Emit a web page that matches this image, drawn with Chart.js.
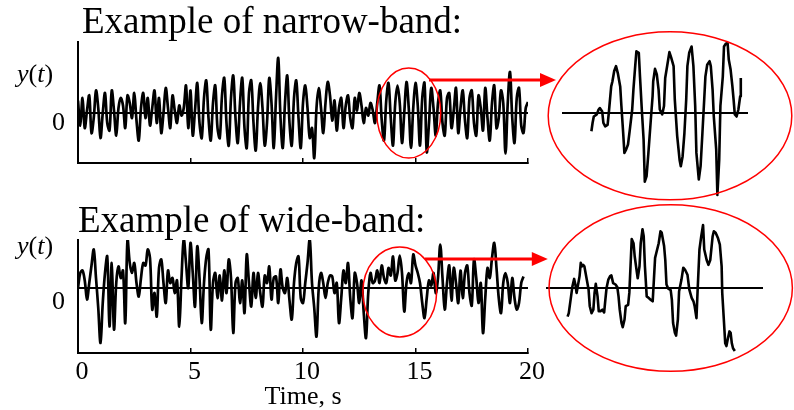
<!DOCTYPE html>
<html>
<head>
<meta charset="utf-8">
<title>Narrow-band and wide-band records</title>
<script src="https://cdn.jsdelivr.net/npm/chart.js@4.4.1/dist/chart.umd.min.js"></script>
<style>
    html, body { margin: 0; padding: 0; background: #fff; }
    #stage {
        position: relative; width: 794px; height: 410px; overflow: hidden;
        font-family: "Liberation Serif", "Times New Roman", serif; color: #000;
    }
    #stage canvas { position: absolute; left: 0; top: 0; }
    .label { position: absolute; white-space: nowrap; line-height: 1; }
    .heading { font-size: 37px; }
    .ylab { font-size: 26px; }
</style>
</head>
<body>
<div id="stage">
    <canvas id="narrowMain" width="794" height="410"></canvas>
    <canvas id="wideMain" width="794" height="410"></canvas>
    <canvas id="narrowZoom" width="794" height="410"></canvas>
    <canvas id="wideZoom" width="794" height="410"></canvas>
    <div class="label heading" style="left:82px;top:2px">Example of narrow-band:</div>
    <div class="label heading" style="left:78px;top:201px">Example of wide-band:</div>
    <div class="label ylab" style="left:17px;top:61px"><i>y</i>(<i>t</i>)</div>
    <div class="label ylab" style="left:17px;top:233px"><i>y</i>(<i>t</i>)</div>
</div>
<script>
// full records, one sample every 0.1 s starting at t = 0
const sampleStep = 0.1;

const narrowBand = [
    0.25, -0.25, 0.3, -0.3, 0.05, 0.35, -0.4, -0.1, 0.45, 0.1,
    -0.5, 0.0, 0.4, -0.2, -0.35, 0.45, 0.05, -0.45, 0.1, 0.3,
    0.15, -0.3, 0.35, 0.2, -0.1, 0.4, -0.15, -0.55, 0.1, 0.4,
    -0.1, 0.3, -0.25, 0.1, 0.45, -0.2, 0.3, -0.4, 0.0, 0.5,
    0.1, -0.3, 0.35, 0.05, -0.2, 0.15, -0.05, 0.1, 0.55, -0.3,
    0.45, -0.45, 0.05, 0.6, -0.2, -0.5, 0.3, 0.65, -0.1, -0.55,
    0.2, 0.55, -0.3, -0.5, 0.35, 0.7, -0.2, -0.65, 0.3, 0.75,
    -0.1, -0.6, 0.2, 0.7, -0.3, -0.7, 0.4, 0.65, -0.2, -0.75,
    0.1, 0.6, 0.1, -0.65, -0.2, 0.7, 0.2, -0.7, 0.3, 1.1,
    -0.1, -0.7, 0.2, 0.75, -0.2, -0.65, 0.3, 0.65, -0.1, -0.7,
    0.2, 0.55, 0.1, -0.5, -0.3, -0.9, 0.1, 0.5, 0.1, -0.4,
    0.2, 0.62, 0.35, -0.15, 0.25, -0.35, 0.1, 0.3, -0.3, 0.15,
    0.35, -0.1, -0.3, 0.3, 0.05, 0.4, 0.15, -0.2, 0.1, -0.05,
    0.2, 0.05, -0.2, 0.2, 0.55, -0.15, -0.55, 0.25, 0.6, -0.1,
    -0.65, 0.2, 0.55, 0.2, -0.6, 0.0, 0.62, 0.1, -0.7, 0.1,
    0.6, 0.15, -0.65, 0.3, 0.6, -0.78, -0.2, 0.5, 0.1, -0.45,
    0.2, 0.45, -0.2, -0.45, 0.3, 0.4, -0.3, 0.05, 0.5, -0.4,
    0.1, 0.45, -0.15, -0.5, 0.3, 0.45, -0.2, -0.45, 0.35, 0.1,
    -0.35, 0.5, -0.1, -0.55, 0.2, 0.55, -0.3, -0.1, 0.45, 0.2,
    -0.81, 0.2, 0.82, -0.1, -0.6, 0.3, 0.5, -0.25, -0.4, 0.1,
    0.22
];

const wideBand = [
    0.0, 0.3, 0.35, 0.15, -0.23, 0.1, 0.45, 0.77, 0.2, -0.4,
    -1.1, -0.3, 0.3, 0.63, -0.77, 0.5, -0.83, 0.1, 0.43, 0.2,
    0.35, -0.7, 0.97, 0.5, 0.3, 0.5, 0.1, -0.17, 0.2, 0.5,
    0.45, 0.77, 0.6, -0.43, -0.1, -0.57, 0.4, 0.57, 0.1, -0.3,
    0.35, 0.1, 0.2, -0.1, 0.15, -0.77, 0.2, 0.97, 0.5, 0.0,
    0.9, 0.3, -0.37, 0.83, 0.2, -0.7, 0.1, 0.6, 0.77, -0.83,
    0.1, 0.3, -0.2, 0.25, -0.25, 0.35, -0.1, 0.57, 0.2, -0.9,
    0.1, 0.2, -0.3, 0.15, -0.5, 0.67, 0.1, -0.37, 0.3, -0.2,
    0.3, -0.1, -0.37, 0.25, 0.1, 0.43, -0.23, 0.2, 0.23, -0.3,
    0.37, 0.0, -0.1, 0.2, -0.25, -0.63, 0.1, 0.5, 0.63, -0.2,
    -0.3, 0.1, 0.5, 0.97, 0.1, -0.4, -0.97, 0.0, 0.3, 0.1,
    -0.2, 0.1, 0.25, 0.23, -0.1, 0.1, -0.7, -0.2, 0.35, 0.1,
    0.5, -0.2, -0.6, 0.3, 0.1, -0.3, 0.15, -0.5, -1.0, -0.1,
    0.3, 0.1, 0.15, 0.35, 0.1, 0.45, 0.2, 0.1, 0.4, 0.25,
    0.63, 0.15, 0.3, 0.65, 0.3, -0.47, 0.1, 0.3, 0.1, 0.67,
    0.45, 0.3, 0.1, -0.3, -0.6, -0.2, 0.15, 0.05, 0.3, -0.1,
    0.2, 0.87, 0.2, -0.43, 0.1, 0.45, -0.25, 0.4, 0.1, -0.3,
    0.35, -0.2, 0.3, 0.45, -0.1, -0.35, 0.57, 0.2, -0.3, 0.1,
    -0.9, -0.2, 0.4, 0.2, 0.6, 0.9, 0.4, -0.2, -0.5, 0.1,
    0.3, 0.1, -0.3, 0.2, -0.2, -0.43, -0.3, 0.1, 0.23
];

// close-up views inside the big ellipses (time in s, value)
const narrowZoomTime = [
    13.49, 13.51, 13.53, 13.58, 13.61, 13.63, 13.67, 13.69, 13.72, 13.76,
    13.78, 13.80, 13.82, 13.84, 13.87, 13.90, 13.93, 13.97, 13.99, 14.02,
    14.04, 14.07, 14.10, 14.13, 14.17, 14.19, 14.22, 14.24, 14.28, 14.30,
    14.33, 14.36, 14.38, 14.41, 14.44, 14.48, 14.51, 14.52, 14.55, 14.58,
    14.61, 14.63, 14.67, 14.70, 14.72, 14.76, 14.79, 14.82, 14.86, 14.88,
    14.92, 14.96, 14.98, 15.01, 15.04, 15.07, 15.09, 15.12, 15.16, 15.19,
    15.22, 15.24, 15.28, 15.31, 15.34, 15.37, 15.39, 15.42, 15.46, 15.48,
    15.51, 15.53, 15.57, 15.59, 15.62, 15.64, 15.68, 15.70, 15.73, 15.76,
    15.78, 15.81, 15.84, 15.86, 15.88, 15.91, 15.94, 15.97, 15.98
];
const narrowZoomValue = [
    -0.26, -0.14, -0.05, -0.02, 0.05, 0.07, 0.02, -0.14, -0.19, -0.17,
    0.0, 0.19, 0.38, 0.45, 0.6, 0.67, 0.57, 0.38, 0.1, -0.29,
    -0.57, -0.52, -0.45, -0.24, 0.05, 0.33, 0.67, 0.88, 0.86, 0.52,
    0.05, -0.38, -0.98, -0.9, -0.57, -0.1, 0.24, 0.45, 0.63, 0.55,
    0.33, 0.05, -0.02, 0.1, 0.5, 0.71, 0.87, 0.79, 0.67, 0.19,
    -0.33, -0.67, -0.76, -0.62, -0.29, 0.19, 0.67, 0.86, 0.95, 0.67,
    0.1, -0.57, -0.95, -0.76, -0.29, 0.19, 0.52, 0.69, 0.74, 0.67,
    0.33, -0.05, -0.52, -1.17, -0.67, 0.1, 0.52, 0.95, 0.99, 1.0,
    0.76, 0.62, 0.38, 0.19, -0.02, -0.05, 0.05, 0.24, 0.5
];

const wideZoomTime = [
    13.16, 13.18, 13.21, 13.24, 13.27, 13.29, 13.31, 13.33, 13.36, 13.38,
    13.40, 13.42, 13.44, 13.48, 13.51, 13.53, 13.56, 13.59, 13.61, 13.63,
    13.66, 13.68, 13.71, 13.74, 13.77, 13.79, 13.81, 13.84, 13.87, 13.89,
    13.92, 13.96, 13.99, 14.01, 14.03, 14.06, 14.08, 14.11, 14.13, 14.17,
    14.19, 14.21, 14.23, 14.26, 14.28, 14.31, 14.33, 14.36, 14.38, 14.41,
    14.43, 14.45, 14.48, 14.51, 14.55, 14.58, 14.60, 14.62, 14.64, 14.68,
    14.71, 14.73, 14.77, 14.79, 14.81, 14.84, 14.88, 14.90, 14.92, 14.95,
    14.97, 15.00, 15.02, 15.06, 15.09, 15.12, 15.16, 15.19, 15.23, 15.26,
    15.28, 15.31, 15.33, 15.36, 15.39, 15.42, 15.44, 15.48, 15.51, 15.54,
    15.58, 15.60, 15.63, 15.67, 15.70, 15.73, 15.74, 15.77, 15.79, 15.81,
    15.83, 15.86, 15.88, 15.90, 15.92, 15.95
];
const wideZoomValue = [
    -0.41, -0.36, -0.17, 0.02, 0.13, 0.05, -0.07, 0.02, 0.17, 0.36,
    0.31, 0.33, 0.31, 0.12, -0.02, -0.26, -0.36, -0.31, -0.07, 0.06,
    -0.12, -0.33, -0.33, -0.31, -0.35, -0.17, 0.0, 0.12, 0.17, 0.18,
    0.07, 0.05, 0.01, -0.12, -0.31, -0.5, -0.56, -0.45, -0.26, -0.24,
    -0.07, 0.31, 0.7, 0.64, 0.45, 0.26, 0.14, 0.31, 0.64, 0.84,
    0.74, 0.31, -0.12, -0.14, -0.17, -0.19, 0.12, 0.43, 0.5, 0.64,
    0.81, 0.79, 0.6, 0.4, 0.05, -0.01, -0.03, -0.17, -0.5, -0.64,
    -0.68, -0.45, -0.05, 0.12, 0.29, 0.26, 0.19, -0.02, -0.14, -0.19,
    -0.26, -0.43, -0.02, 0.55, 0.74, 0.9, 0.55, 0.4, 0.33, 0.4,
    0.74, 0.81, 0.79, 0.71, 0.62, 0.31, -0.07, -0.5, -0.79, -0.83,
    -0.74, -0.62, -0.64, -0.79, -0.86, -0.9
];

const timeTicks = [0, 5, 10, 15, 20];

// red ellipses (centre and half-axes in data units) and the arrows joining them
const narrowLink = {
    spot: { t: 14.7, y: 0, dt: 1.42, dy: 0.9 },
    view: { t: 14.8, y: -0.04, dt: 2.03, dy: 1.2 },
    arrowFrom: { t: 15.6, y: 0.66 },
    arrowTo: 12.9
};
const wideLink = {
    spot: { t: 14.3, y: -0.08, dt: 1.64, dy: 0.9 },
    view: { t: 14.88, y: 0, dt: 2.03, dy: 1.19 },
    arrowFrom: { t: 15.42, y: 0.58 },
    arrowTo: 12.83
};

const RED = '#ff0000';
const SERIF = '"Liberation Serif", "Times New Roman", serif';

Chart.defaults.font.family = SERIF;
Chart.defaults.color = '#000';

const toPoints = values => values.map((v, i) => ({ x: i * sampleStep, y: v }));
const pairPoints = (times, values) => times.map((t, i) => ({ x: t, y: values[i] }));

function signalDataset(points, width, tension) {
    return {
        data: points,
        borderColor: '#000',
        borderWidth: width,
        borderJoinStyle: 'round',
        pointRadius: 0,
        tension: tension,
        fill: false
    };
}

function mainChart(canvasId, values, cfg) {
    return new Chart(document.getElementById(canvasId), {
        type: 'line',
        data: { datasets: [signalDataset(toPoints(values), 2.7, 0.35)] },
        options: {
            responsive: false,
            animation: false,
            devicePixelRatio: 1,
            events: [],
            layout: { autoPadding: false, padding: cfg.padding },
            plugins: { legend: { display: false }, tooltip: { enabled: false } },
            scales: {
                x: {
                    type: 'linear',
                    min: 0,
                    max: 20,
                    afterFit: s => { s.height = cfg.xHeight; },
                    afterBuildTicks: s => { s.ticks = timeTicks.map(v => ({ value: v })); },
                    border: { display: true, color: '#000', width: 2 },
                    grid: {
                        display: true, drawOnChartArea: false, drawTicks: true,
                        tickLength: -5, color: '#000', lineWidth: 1.5
                    },
                    ticks: {
                        display: cfg.timeLabels, padding: 9, labelOffset: 4,
                        maxRotation: 0, autoSkip: false,
                        font: { family: SERIF, size: 26 }
                    },
                    title: {
                        display: cfg.timeLabels, text: 'Time, s',
                        padding: { top: 0, bottom: 0 },
                        font: { family: SERIF, size: 26, lineHeight: 1 }
                    }
                },
                y: {
                    min: cfg.yMin,
                    max: cfg.yMax,
                    afterFit: s => { s.width = 78; },
                    afterBuildTicks: s => { s.ticks = [{ value: 0 }]; },
                    border: { display: true, color: '#000', width: 2 },
                    grid: { display: true, drawTicks: false, color: '#000', lineWidth: 2 },
                    ticks: {
                        padding: 13, labelOffset: cfg.zeroOffset,
                        font: { family: SERIF, size: 26 },
                        callback: v => (v === 0 ? '0' : '')
                    }
                }
            }
        }
    });
}

function strokeEllipse(ctx, xs, ys, e) {
    const cx = xs.getPixelForValue(e.t);
    const cy = ys.getPixelForValue(e.y);
    const rx = Math.abs(xs.getPixelForValue(e.t + e.dt) - cx);
    const ry = Math.abs(ys.getPixelForValue(e.y + e.dy) - cy);
    ctx.beginPath();
    ctx.ellipse(cx, cy, rx, ry, 0, 0, Math.PI * 2);
    ctx.stroke();
}

// draws the small ellipse on the record, the big one round the close-up and the arrow
function linkPlugin(main, link) {
    return {
        id: 'zoomLink',
        afterDraw(chart) {
            const ctx = chart.ctx;
            const mx = main.scales.x, my = main.scales.y;
            const zx = chart.scales.x, zy = chart.scales.y;
            ctx.save();
            ctx.strokeStyle = RED;
            ctx.fillStyle = RED;
            ctx.lineWidth = 1.5;
            strokeEllipse(ctx, mx, my, link.spot);
            strokeEllipse(ctx, zx, zy, link.view);

            const y = my.getPixelForValue(link.arrowFrom.y);
            const x0 = mx.getPixelForValue(link.arrowFrom.t);
            const x1 = zx.getPixelForValue(link.arrowTo);
            const head = 16, half = 7;
            ctx.lineWidth = 3;
            ctx.beginPath();
            ctx.moveTo(x0, y);
            ctx.lineTo(x1 - head + 1, y);
            ctx.stroke();
            ctx.beginPath();
            ctx.moveTo(x1, y);
            ctx.lineTo(x1 - head, y - half);
            ctx.lineTo(x1 - head, y + half);
            ctx.closePath();
            ctx.fill();
            ctx.restore();
        }
    };
}

function zoomChart(canvasId, times, values, main, link, cfg) {
    return new Chart(document.getElementById(canvasId), {
        type: 'line',
        data: { datasets: [signalDataset(pairPoints(times, values), 2.6, 0)] },
        options: {
            responsive: false,
            animation: false,
            devicePixelRatio: 1,
            events: [],
            layout: { autoPadding: false, padding: cfg.padding },
            plugins: { legend: { display: false }, tooltip: { enabled: false } },
            scales: {
                x: { type: 'linear', min: cfg.tMin, max: cfg.tMax, display: false },
                y: {
                    min: -1.2,
                    max: 1.1,
                    afterFit: s => { s.width = 0; },
                    afterBuildTicks: s => { s.ticks = [{ value: 0 }]; },
                    border: { display: false },
                    grid: { display: true, drawTicks: false, color: '#000', lineWidth: 2 },
                    ticks: { display: false }
                }
            }
        },
        plugins: [linkPlugin(main, link)]
    });
}

const narrowMain = mainChart('narrowMain', narrowBand, {
    padding: { left: 0, right: 266, top: 42, bottom: 247 },
    xHeight: 0, timeLabels: false, yMin: -1.0, yMax: 1.42, zeroOffset: 10
});
const wideMain = mainChart('wideMain', wideBand, {
    padding: { left: 0, right: 266, top: 240, bottom: 0 },
    xHeight: 57, timeLabels: true, yMin: -1.3, yMax: 0.96, zeroOffset: 14
});

zoomChart('narrowZoom', narrowZoomTime, narrowZoomValue, narrowMain, narrowLink, {
    padding: { left: 562, right: 46, top: 36, bottom: 213 },
    tMin: 13.0, tMax: 16.1
});
zoomChart('wideZoom', wideZoomTime, wideZoomValue, wideMain, wideLink, {
    padding: { left: 546, right: 31, top: 211, bottom: 38 },
    tMin: 12.8, tMax: 16.42
});
</script>
</body>
</html>
